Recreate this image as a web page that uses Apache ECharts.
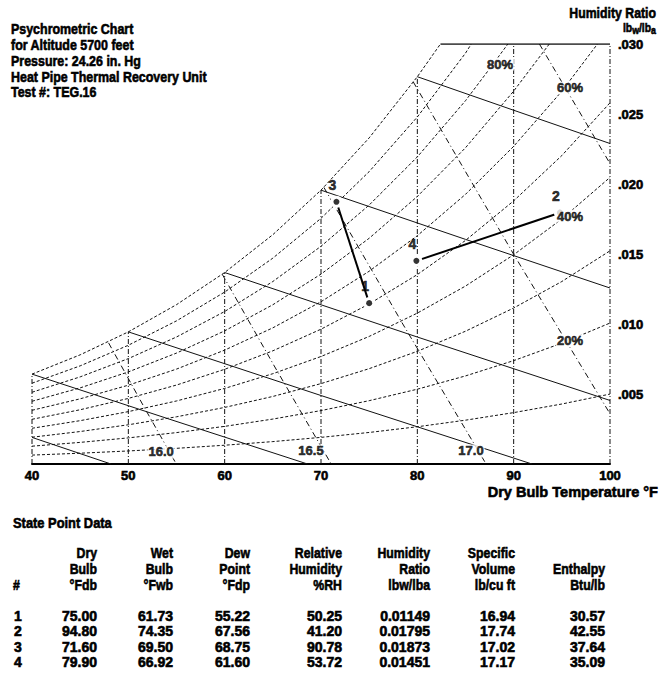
<!DOCTYPE html>
<html><head><meta charset="utf-8">
<script src="https://cdn.jsdelivr.net/npm/echarts@6/dist/echarts.min.js"></script>
<style>html,body{margin:0;padding:0;background:#fff}#c{width:660px;height:676px}</style>
</head><body><div id="c"></div>
<script>
// ---- State point table data ----
const pointIds = ['1', '2', '3', '4'];
const dryBulb = [75.00, 94.80, 71.60, 79.90];
const wetBulb = [61.73, 74.35, 69.50, 66.92];
const dewPoint = [55.22, 67.56, 68.75, 61.60];
const relHumidity = [50.25, 41.20, 90.78, 53.72];
const humidityRatio = [0.01149, 0.01795, 0.01873, 0.01451];
const specificVolume = [16.94, 17.74, 17.02, 17.17];
const enthalpy = [30.57, 42.55, 37.64, 35.09];
const processPairs = [[2, 0], [3, 1]]; // 3 -> 1, 4 -> 2

// ---- Chart lines: [dry bulb °F, humidity ratio] ----
const sat100 = [[40,.006419],[45,.007798],[50,.009438],[55,.011381],[60,.013676],[65,.016380],[70,.019561],[75,.023293],[80,.027664],[82.4,.030]];
const rh90 = [[40,.005771],[45,.007010],[50,.008482],[55,.010224],[60,.012281],[65,.014704],[70,.017549],[75,.020885],[80,.024788],[85,.029347],[85.6,.030]];
const rh80 = [[40,.005125],[45,.006223],[50,.007528],[55,.009072],[60,.010893],[65,.013035],[70,.015551],[75,.018496],[80,.021936],[85,.025950],[87.5,.028230],[89.4,.030]];
const rh70 = [[40,.004480],[45,.005438],[50,.006577],[55,.007923],[60,.009510],[65,.011376],[70,.013564],[75,.016124],[80,.019110],[85,.022589],[90,.026634],[93.7,.030]];
const rh60 = [[40,.003836],[45,.004656],[50,.005629],[55,.006779],[60,.008134],[65,.009726],[70,.011591],[75,.013769],[80,.016308],[85,.019262],[90,.022690],[95,.026628],[98.7,.030]];
const rh50 = [[40,.003193],[45,.003875],[50,.004684],[55,.005639],[60,.006764],[65,.008084],[70,.009629],[75,.011432],[80,.013531],[85,.015969],[90,.018794],[95,.022032],[100,.025800]];
const rh40 = [[40,.002552],[45,.003096],[50,.003741],[55,.004503],[60,.005399],[65,.006450],[70,.007679],[75,.009112],[80,.010778],[85,.012710],[90,.014945],[95,.017502],[100,.020470]];
const rh30 = [[40,.001912],[45,.002319],[50,.002802],[55,.003371],[60,.004041],[65,.004825],[70,.005742],[75,.006809],[80,.008049],[85,.009484],[90,.011142],[95,.013035],[100,.015227]];
const rh20 = [[40,.001273],[45,.001544],[50,.001865],[55,.002243],[60,.002688],[65,.003209],[70,.003816],[75,.004523],[80,.005343],[85,.006291],[90,.007384],[95,.008630],[100,.010069]];
const rh10 = [[40,.000636],[45,.000771],[50,.000931],[55,.001120],[60,.001341],[65,.001600],[70,.001902],[75,.002253],[80,.002660],[85,.003130],[90,.003670],[95,.004285],[100,.004994]];

const wb30 = [[40,.0019],[48.2,0]];
const wb40 = [[40,.006419],[54,.003262],[68.6,0]];
const wb50 = [[50,.009438],[70,.004891],[91.9,0]];
const wb60 = [[60,.013676],[80,.009070],[100,.004540]];
const wb70 = [[70,.019561],[85,.016044],[100,.012571]];
const wb80 = [[80,.027664],[90,.025268],[100,.022892]];

const vol160 = [[47.95,.00865],[51.69,.004],[54.98,0]];
const vol165 = [[59.75,.01355],[65.15,.007],[71.06,0]];
const vol170 = [[70.3,.01976],[78.49,.010],[87.14,0]];
const vol175 = [[79.57,.0273],[89.98,.015],[100,.003589]];
const vol180 = [[92.67,.030],[100,.021461]];

const dbGridTemps = [40, 50, 60, 70, 80, 90, 100];
const dbGridTops = [.006419, .009438, .013676, .019561, .027664, .030, .030];
const topEdge = [[82.4,.030],[100,.030]];

const rhLabels = [[95.85,.00879,'20%'],[95.85,.01771,'40%'],[95.85,.02686,'60%'],[88.58,.02857,'80%']];
const volLabels = [[53.4,.00086,'16.0'],[68.96,.00093,'16.5'],[85.57,.00093,'17.0']];

const titleLines = ['Psychrometric Chart','for Altitude 5700 feet','Pressure: 24.26 in. Hg','Heat Pipe Thermal Recovery Unit','Test #: TEG.16'];
const colHeaders = [['#'],['Dry','Bulb','°Fdb'],['Wet','Bulb','°Fwb'],['Dew','Point','°Fdp'],['Relative','Humidity','%RH'],['Humidity','Ratio','lbw/lba'],['Specific','Volume','lb/cu ft'],['Enthalpy','Btu/lb']];

// ---- fonts / styles ----
const FN = "'Liberation Sans',Arial,Helvetica,sans-serif";
const INK = '#111';
const NARROW = 0.83;
const HEAVY = 0.6;

const chart = echarts.init(document.getElementById('c'), null, {renderer: 'svg'});

function lineSeries(data, type, width) {
  return {type: 'line', data: data, showSymbol: false, silent: true, animation: false, smooth: false,
    lineStyle: {color: INK, width: width || 1, type: type}, z: 2};
}
const series = [];
[sat100, rh90, rh80, rh70, rh60, rh50, rh40, rh30, rh20, rh10].forEach(d => series.push(lineSeries(d, [3, 2], 1)));
[wb30, wb40, wb50, wb60, wb70, wb80].forEach(d => series.push(lineSeries(d, 'solid', 1)));
[vol160, vol165, vol170, vol175, vol180].forEach(d => series.push(lineSeries(d, [6, 3, 1, 3], 1)));
dbGridTemps.forEach((t, i) => series.push(lineSeries([[t, 0], [t, dbGridTops[i]]], [5, 2, 1, 2], 1)));
series.push(lineSeries(topEdge, 'solid', 1.5));

processPairs.forEach(p => {
  series.push({type: 'line', silent: true, animation: false, showSymbol: false, z: 5,
    data: [[dryBulb[p[0]], humidityRatio[p[0]]], [dryBulb[p[1]], humidityRatio[p[1]]]],
    lineStyle: {color: '#000', width: 2}});
});
const pts = dryBulb.map((t, i) => [t, humidityRatio[i], pointIds[i]]);
series.push({type: 'scatter', data: pts, symbol: 'emptyCircle', symbolSize: 10, silent: true, animation: false, z: 6,
  itemStyle: {color: '#fff', borderColor: '#666', borderWidth: 1, opacity: 1}});
series.push({type: 'scatter', data: pts, symbol: 'circle', symbolSize: 6, silent: true, animation: false, z: 7,
  itemStyle: {color: '#000'},
  label: {show: true, position: 'top', offset: [-4, -2], formatter: p => p.data[2],
    fontFamily: FN, fontWeight: 'bold', fontSize: 14, color: '#000', textBorderColor: '#000', textBorderWidth: HEAVY}});
function labelSeries(data) {
  return {type: 'scatter', data: data, symbolSize: 0, silent: true, animation: false, z: 8,
    label: {show: true, position: 'inside', formatter: p => p.data[2], fontFamily: FN, fontWeight: 'bold',
      fontSize: 13, color: '#000', backgroundColor: '#fff', padding: [0, 1], textBorderColor: '#000', textBorderWidth: HEAVY}};
}
series.push(labelSeries(rhLabels));
series.push(labelSeries(volLabels));

// ---- graphic texts ----
const graphics = [];
function txt(text, x, y, align, size, sx) {
  graphics.push({type: 'text', silent: true, x: x, y: y, scaleX: sx, scaleY: 1,
    style: {text: text, x: 0, y: 0, align: align, textAlign: align, verticalAlign: 'middle', textVerticalAlign: 'middle',
      fontFamily: FN, fontWeight: 'bold', fontSize: size, fill: '#000', stroke: '#000', lineWidth: HEAVY}});
}
titleLines.forEach((s, i) => txt(s, 11, 29 + i * 15.9, 'left', 15, NARROW));
txt('Humidity Ratio', 656, 13, 'right', 15, 0.82);
graphics.push({type: 'text', silent: true, x: 656, y: 21, scaleX: 0.8, scaleY: 1, style: {
  text: '{a|lb}{s|w}{a|/lb}{s|a}', x: 0, y: 0, align: 'right', textAlign: 'right', verticalAlign: 'top', textVerticalAlign: 'top',
  fill: '#000', fontFamily: FN, fontWeight: 'bold',
  rich: {a: {fontFamily: FN, fontWeight: 'bold', fontSize: 13, lineHeight: 13, verticalAlign: 'top', fill: '#000', stroke: '#000', lineWidth: HEAVY},
         s: {fontFamily: FN, fontWeight: 'bold', fontSize: 11, lineHeight: 11, verticalAlign: 'top', padding: [4, 0, 0, 0], fill: '#000', stroke: '#000', lineWidth: HEAVY}}}});
txt('Dry Bulb Temperature °F', 658, 492, 'right', 15, 0.97);
txt('State Point Data', 13, 523, 'left', 15, 0.86);

const colRight = [13, 97, 173, 250, 342, 430, 515, 605];
const headerRowsY = [553, 569, 585];
colHeaders.forEach((h, c) => {
  h.forEach((s, r) => {
    const y = headerRowsY[3 - h.length + r];
    txt(s, colRight[c], y, c === 0 ? 'left' : 'right', 15, 0.82);
  });
});
const rowY = [616, 631, 646.5, 662];
pointIds.forEach((id, i) => {
  txt(id, 14, rowY[i], 'left', 14, 1);
  const vals = [dryBulb[i].toFixed(2), wetBulb[i].toFixed(2), dewPoint[i].toFixed(2), relHumidity[i].toFixed(2),
    humidityRatio[i].toFixed(5), specificVolume[i].toFixed(2), enthalpy[i].toFixed(2)];
  vals.forEach((v, c) => txt(v, colRight[c + 1], rowY[i], 'right', 14, 1));
});

chart.setOption({
  animation: false,
  backgroundColor: '#fff',
  grid: {left: 32, right: 50, top: 44, bottom: 212, containLabel: false},
  xAxis: {type: 'value', min: 40, max: 100, interval: 10,
    axisLine: {show: true, onZero: false, lineStyle: {color: '#000', width: 2}},
    axisTick: {show: false}, splitLine: {show: false},
    axisLabel: {margin: 5, fontFamily: FN, fontWeight: 'bold', fontSize: 13, color: '#000', textBorderColor: '#000', textBorderWidth: HEAVY}},
  yAxis: {type: 'value', position: 'right', min: 0, max: 0.03, interval: 0.005,
    axisLine: {show: false}, axisTick: {show: false}, splitLine: {show: false},
    axisLabel: {margin: 8, fontFamily: FN, fontWeight: 'bold', fontSize: 13, color: '#000', textBorderColor: '#000', textBorderWidth: HEAVY,
      formatter: v => v === 0 ? '' : v.toFixed(3).slice(1)}},
  series: series,
  graphic: graphics
});
</script></body></html>
